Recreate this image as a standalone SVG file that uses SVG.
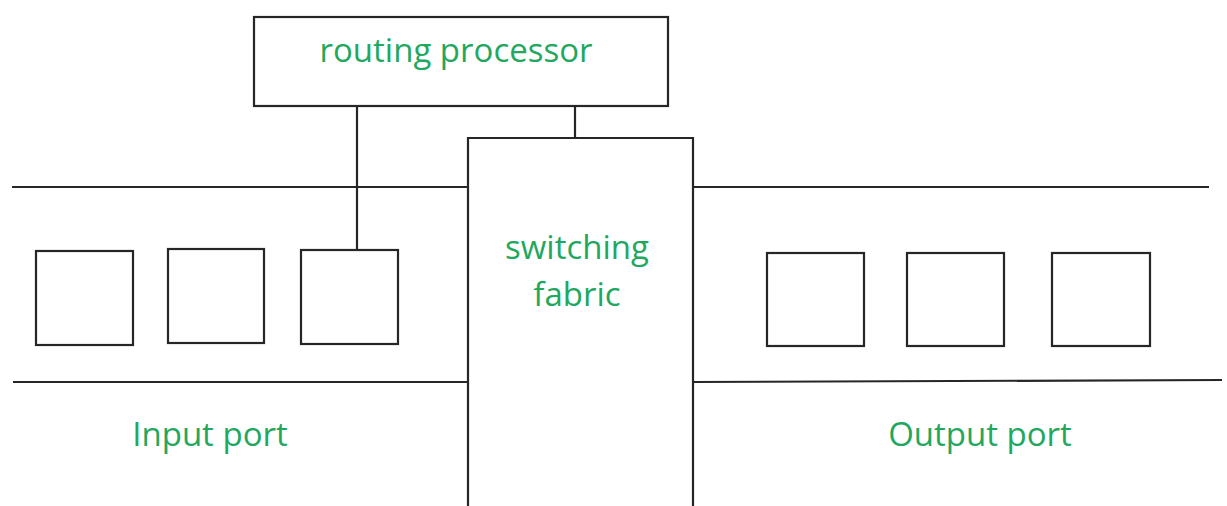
<svg xmlns="http://www.w3.org/2000/svg" width="1227" height="506" viewBox="0 0 1227 506">
<style>
.box{fill:#fff;stroke:#262626;stroke-width:2.2}
.ln{fill:none;stroke:#262626;stroke-width:2.2}
.lbl{fill:#22a85e;font-family:"Open Sans","Liberation Sans",sans-serif;font-size:33px}
</style>
<rect width="1227" height="506" fill="#fff"/>
<g id="connectors">
<line class="ln" x1="12" y1="187" x2="468" y2="187"/>
<line class="ln" x1="13" y1="382" x2="468" y2="382"/>
<line class="ln" x1="693" y1="187" x2="1209" y2="187"/>
<line class="ln" x1="693" y1="382" x2="1222" y2="380"/>
<line class="ln" x1="357" y1="106" x2="357" y2="250"/>
<line class="ln" x1="575" y1="106" x2="575" y2="138"/>
</g>
<g id="routing-processor">
<rect class="box" x="254" y="17" width="414" height="89"/>
<text class="lbl" x="456" y="62" text-anchor="middle">routing processor</text>
</g>
<g id="switching-fabric">
<path class="ln" d="M468 506V138H693V506" style="fill:#fff"/>
<text class="lbl" x="577" y="259" text-anchor="middle">switching</text>
<text class="lbl" x="577" y="306" text-anchor="middle">fabric</text>
</g>
<g id="input-port">
<rect class="box" x="36" y="251" width="97" height="94"/>
<rect class="box" x="168" y="249" width="96" height="94"/>
<rect class="box" x="301" y="250" width="97" height="94"/>
<text class="lbl" x="210" y="446" text-anchor="middle">Input port</text>
</g>
<g id="output-port">
<rect class="box" x="767" y="253" width="97" height="93"/>
<rect class="box" x="907" y="253" width="97" height="93"/>
<rect class="box" x="1052" y="253" width="98" height="93"/>
<text class="lbl" x="980" y="446" text-anchor="middle">Output port</text>
</g>
</svg>
